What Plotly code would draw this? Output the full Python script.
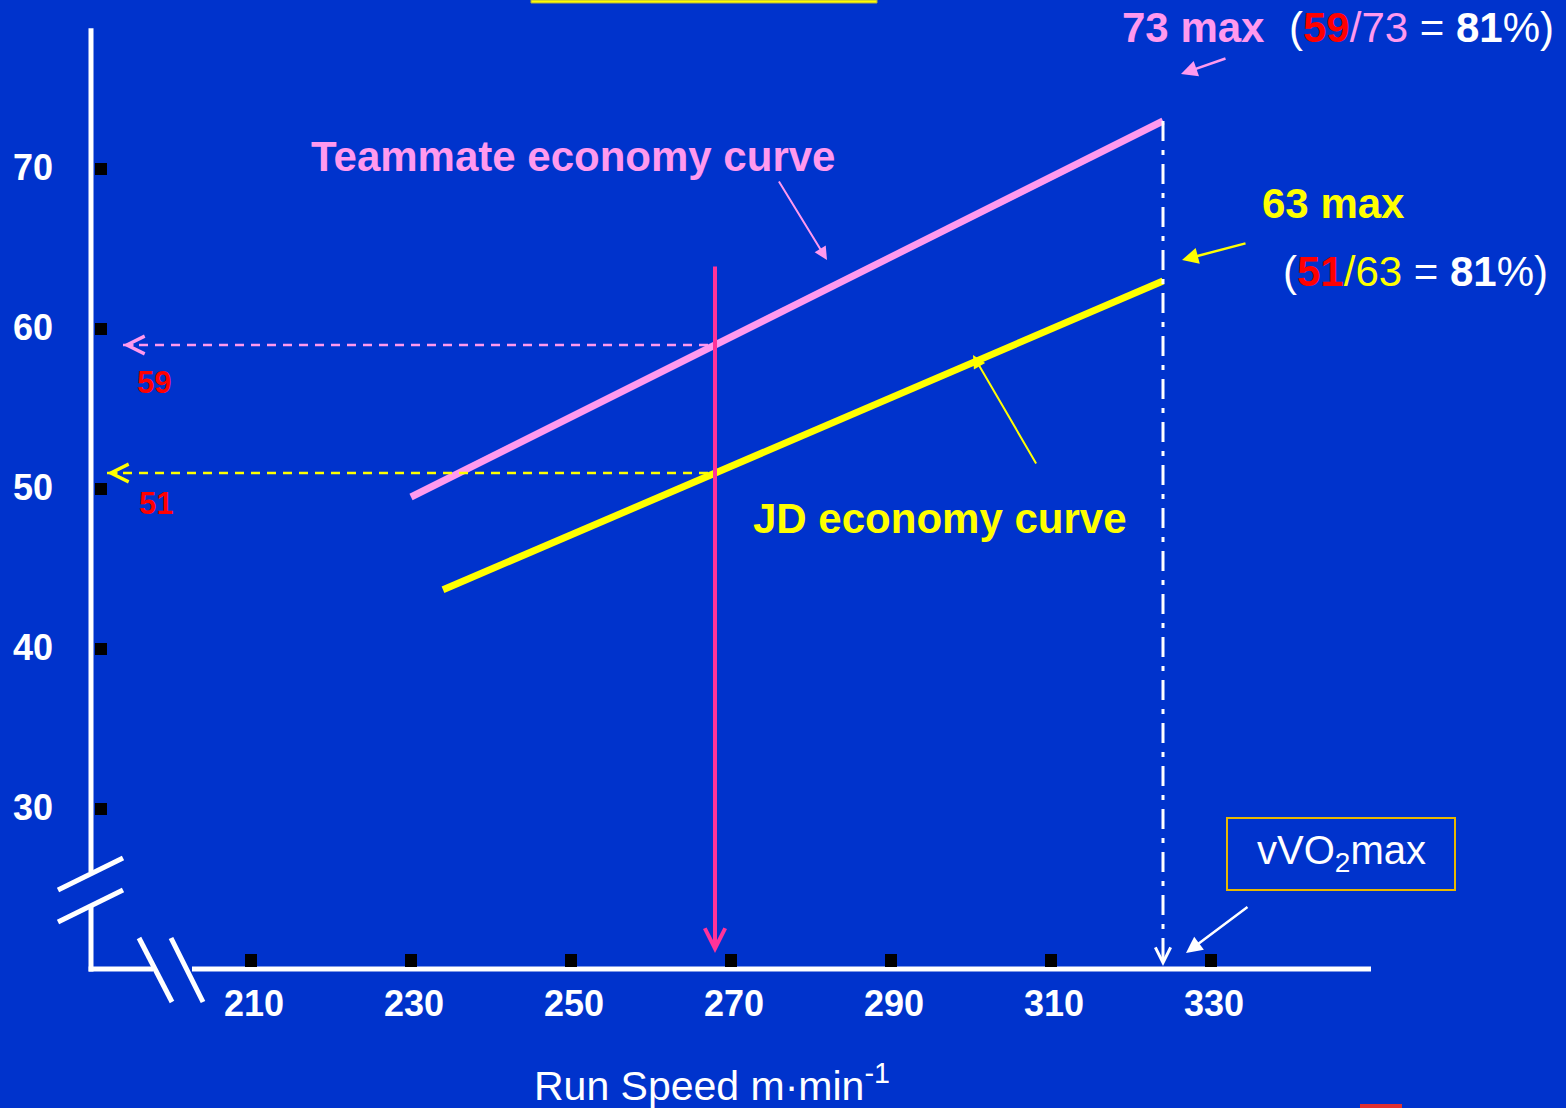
import plotly.graph_objects as go

# ---------------- data ----------------
speed_ticks = [210, 230, 250, 270, 290, 310, 330]   # run speed, m/min
vo2_ticks = [30, 40, 50, 60, 70]                     # VO2, ml/kg/min

teammate_speed = [230, 324]
teammate_vo2 = [49.5, 73]
jd_speed = [234, 324]
jd_vo2 = [43.7, 63]

test_speed = 268            # common running speed compared
teammate_at_test = 59
jd_at_test = 51
vvo2max_speed = 324
teammate_max = 73
jd_max = 63

test_line_vo2 = [64, 21]    # vertical marker at the test speed
guide_end_teammate = 194    # where the read-off arrows stop
guide_end_jd = 192
axis_origin = [190, 20]     # corner of the broken axes
axis_end = [350, 78.8]

teammate_pct = round(100 * teammate_at_test / teammate_max)
jd_pct = round(100 * jd_at_test / jd_max)

# ---------------- styling ----------------
W, H = 1566, 1108
X_RANGE = [178.625, 374.375]   # 8 px per m/min
Y_RANGE = [11.3125, 80.5625]   # 16 px per VO2 unit
BG = "#0033CC"
PINK = "#FF99EE"
YELLOW = "#FFFF00"
RED = "#FF0000"
MAGENTA = "#FF3399"
WHITE = "#FFFFFF"
FONT = "Liberation Sans, Arial, sans-serif"


def px_x(px):
    return X_RANGE[0] + px * (X_RANGE[1] - X_RANGE[0]) / W


def px_y(py):
    return Y_RANGE[1] - py * (Y_RANGE[1] - Y_RANGE[0]) / H


def fx(px):
    return px / W


def fy(py):
    return 1 - py / H


def label(px, py, text, size, color, anchor="center"):
    """Free text placed on the page, anchored at its vertical middle."""
    return dict(x=fx(px), y=fy(py), xref="paper", yref="paper",
                xanchor=anchor, yanchor="middle", text=text, showarrow=False,
                font=dict(family=FONT, size=size, color=color))


fig = go.Figure()

# economy curves
fig.add_trace(go.Scatter(x=teammate_speed, y=teammate_vo2, mode="lines",
                         line=dict(color=PINK, width=7), hoverinfo="skip"))
fig.add_trace(go.Scatter(x=jd_speed, y=jd_vo2, mode="lines",
                         line=dict(color=YELLOW, width=7), hoverinfo="skip"))

# dashed read-off lines at the test speed
fig.add_trace(go.Scatter(x=[guide_end_teammate, test_speed],
                         y=[teammate_at_test, teammate_at_test], mode="lines",
                         line=dict(color=PINK, width=2.5, dash="9px,7px"),
                         hoverinfo="skip"))
fig.add_trace(go.Scatter(x=[guide_end_jd, test_speed],
                         y=[jd_at_test, jd_at_test], mode="lines",
                         line=dict(color=YELLOW, width=2.5, dash="9px,7px"),
                         hoverinfo="skip"))

# dash-dot drop line at vVO2max
fig.add_trace(go.Scatter(x=[vvo2max_speed, vvo2max_speed],
                         y=[teammate_max, axis_origin[1] + 0.4], mode="lines",
                         line=dict(color=WHITE, width=3, dash="20px,9px,5px,9px"),
                         hoverinfo="skip"))

shapes = []
# broken axes
axis_style = dict(color=WHITE, width=5)
shapes += [
    dict(type="line", xref="x", yref="y", x0=axis_origin[0], x1=axis_origin[0],
         y0=px_y(872), y1=axis_end[1], line=axis_style),
    dict(type="line", xref="x", yref="y", x0=axis_origin[0], x1=axis_origin[0],
         y0=axis_origin[1] - 0.16, y1=px_y(907), line=axis_style),
    dict(type="line", xref="x", yref="y", x0=axis_origin[0] - 0.3, x1=px_x(153),
         y0=axis_origin[1], y1=axis_origin[1], line=axis_style),
    dict(type="line", xref="x", yref="y", x0=px_x(192), x1=axis_end[0],
         y0=axis_origin[1], y1=axis_origin[1], line=axis_style),
]
# axis break marks
for (x0, y0, x1, y1) in [(58, 890, 123, 858), (58, 922, 123, 890),
                         (139, 938, 172, 1002), (171, 938, 203, 1002)]:
    shapes.append(dict(type="line", xref="paper", yref="paper",
                       x0=fx(x0), y0=fy(y0), x1=fx(x1), y1=fy(y1),
                       line=dict(color=WHITE, width=5)))

# square tick marks
for v in speed_ticks:
    shapes.append(dict(type="rect", xref="x", yref="y",
                       xsizemode="pixel", ysizemode="pixel",
                       xanchor=v, yanchor=axis_origin[1],
                       x0=-6, x1=6, y0=2, y1=15,
                       fillcolor="black", line=dict(width=0)))
for v in vo2_ticks:
    shapes.append(dict(type="rect", xref="x", yref="y",
                       xsizemode="pixel", ysizemode="pixel",
                       xanchor=axis_origin[0], yanchor=v,
                       x0=4, x1=16, y0=-6, y1=6,
                       fillcolor="black", line=dict(width=0)))

# vVO2max label box
shapes.append(dict(type="rect", xref="paper", yref="paper",
                   x0=fx(1227), x1=fx(1455), y0=fy(890), y1=fy(818),
                   line=dict(color="#E8B800", width=2)))
# slide accents at the edges
shapes.append(dict(type="rect", xref="paper", yref="paper",
                   x0=fx(531), x1=fx(877), y0=fy(3), y1=1,
                   fillcolor=YELLOW, line=dict(color="#B0B040", width=1)))
shapes.append(dict(type="rect", xref="paper", yref="paper",
                   x0=fx(1360), x1=fx(1402), y0=0, y1=fy(1104),
                   fillcolor="#E03030", line=dict(width=0)))

ann = []
# tick labels
for v in speed_ticks:
    ann.append(dict(x=v, y=axis_origin[1], xref="x", yref="y", text=str(v),
                    showarrow=False, xanchor="center", yanchor="middle",
                    xshift=3, yshift=-34,
                    font=dict(family=FONT, size=36, color=WHITE, weight="bold")))
for v in vo2_ticks:
    ann.append(dict(x=axis_origin[0], y=v, xref="x", yref="y", text=str(v),
                    showarrow=False, xanchor="right", yanchor="middle",
                    xshift=-36, yshift=2,
                    font=dict(family=FONT, size=36, color=WHITE, weight="bold")))

# x-axis title
ann.append(label(712, 1083, "Run Speed m·min<sup>-1</sup>", 41, WHITE))

# vertical marker at the test speed
ann.append(dict(x=test_speed, y=test_line_vo2[1], ax=test_speed, ay=test_line_vo2[0],
                xref="x", yref="y", axref="x", ayref="y", text="",
                showarrow=True, arrowhead=5, arrowsize=1, arrowwidth=4,
                arrowcolor=MAGENTA, standoff=0))

# open arrowheads of the read-off lines
ann.append(dict(x=guide_end_teammate, y=teammate_at_test, xref="x", yref="y",
                ax=12, ay=0, text="", showarrow=True, arrowhead=5, arrowsize=1.4,
                arrowwidth=2.5, arrowcolor=PINK, standoff=0))
ann.append(dict(x=guide_end_jd, y=jd_at_test, xref="x", yref="y",
                ax=12, ay=0, text="", showarrow=True, arrowhead=5, arrowsize=1.4,
                arrowwidth=2.5, arrowcolor=YELLOW, standoff=0))
ann.append(dict(x=vvo2max_speed, y=axis_origin[1], xref="x", yref="y",
                ax=0, ay=-14, text="", showarrow=True, arrowhead=5, arrowsize=1.2,
                arrowwidth=2.5, arrowcolor=WHITE, standoff=3))

ann.append(dict(x=guide_end_teammate, y=teammate_at_test, xref="x", yref="y",
                text=f"<b>{teammate_at_test}</b>", showarrow=False,
                xanchor="center", yanchor="middle", xshift=31, yshift=-37,
                font=dict(family=FONT, size=31, color=RED)))
ann.append(dict(x=guide_end_jd, y=jd_at_test, xref="x", yref="y",
                text=f"<b>{jd_at_test}</b>", showarrow=False,
                xanchor="center", yanchor="middle", xshift=49, yshift=-30,
                font=dict(family=FONT, size=31, color=RED)))

# curve names
ann.append(label(573, 156, "<b>Teammate economy curve</b>", 42, PINK))
ann.append(label(940, 518, "<b>JD economy curve</b>", 42, YELLOW))

# maxima and percentages
ann.append(label(1120, 27, f"<b>{teammate_max} max</b>", 42, PINK, "left"))
ann.append(label(1287, 27,
                 f"(<span style='color:{RED}'><b>{teammate_at_test}</b></span>"
                 f"<span style='color:{PINK}'>/{teammate_max}</span>"
                 f" = <b>{teammate_pct}</b>%)", 42, WHITE, "left"))
ann.append(label(1260, 204, f"<b>{jd_max} max</b>", 42, YELLOW, "left"))
ann.append(label(1281, 271,
                 f"(<span style='color:{RED}'><b>{jd_at_test}</b></span>"
                 f"<span style='color:{YELLOW}'>/{jd_max}</span>"
                 f" = <b>{jd_pct}</b>%)", 42, WHITE, "left"))

ann.append(label(1341, 853, "vVO<sub>2</sub>max", 40, WHITE))

# pointer arrows (head, tail) in page pixels
pointers = [
    ((827, 260), (778, 180), PINK, 2),
    ((973, 355), (1037, 465), YELLOW, 2),
    ((1181, 74), (1227, 58), PINK, 2.5),
    ((1182, 260), (1247, 243), YELLOW, 2.5),
    ((1186, 953), (1249, 906), WHITE, 2.5),
]
for (hx, hy), (tx, ty), col, w in pointers:
    ann.append(dict(x=fx(hx), y=fy(hy), xref="paper", yref="paper",
                    ax=tx - hx, ay=ty - hy, text="", showarrow=True,
                    arrowhead=2, arrowsize=1.3, arrowwidth=w,
                    arrowcolor=col, standoff=0))

fig.update_layout(
    width=W, height=H,
    margin=dict(l=0, r=0, t=0, b=0),
    paper_bgcolor=BG, plot_bgcolor=BG,
    showlegend=False,
    xaxis=dict(range=X_RANGE, visible=False, fixedrange=True),
    yaxis=dict(range=Y_RANGE, visible=False, fixedrange=True),
    shapes=shapes,
    annotations=ann,
)

fig.write_html("out.html")
